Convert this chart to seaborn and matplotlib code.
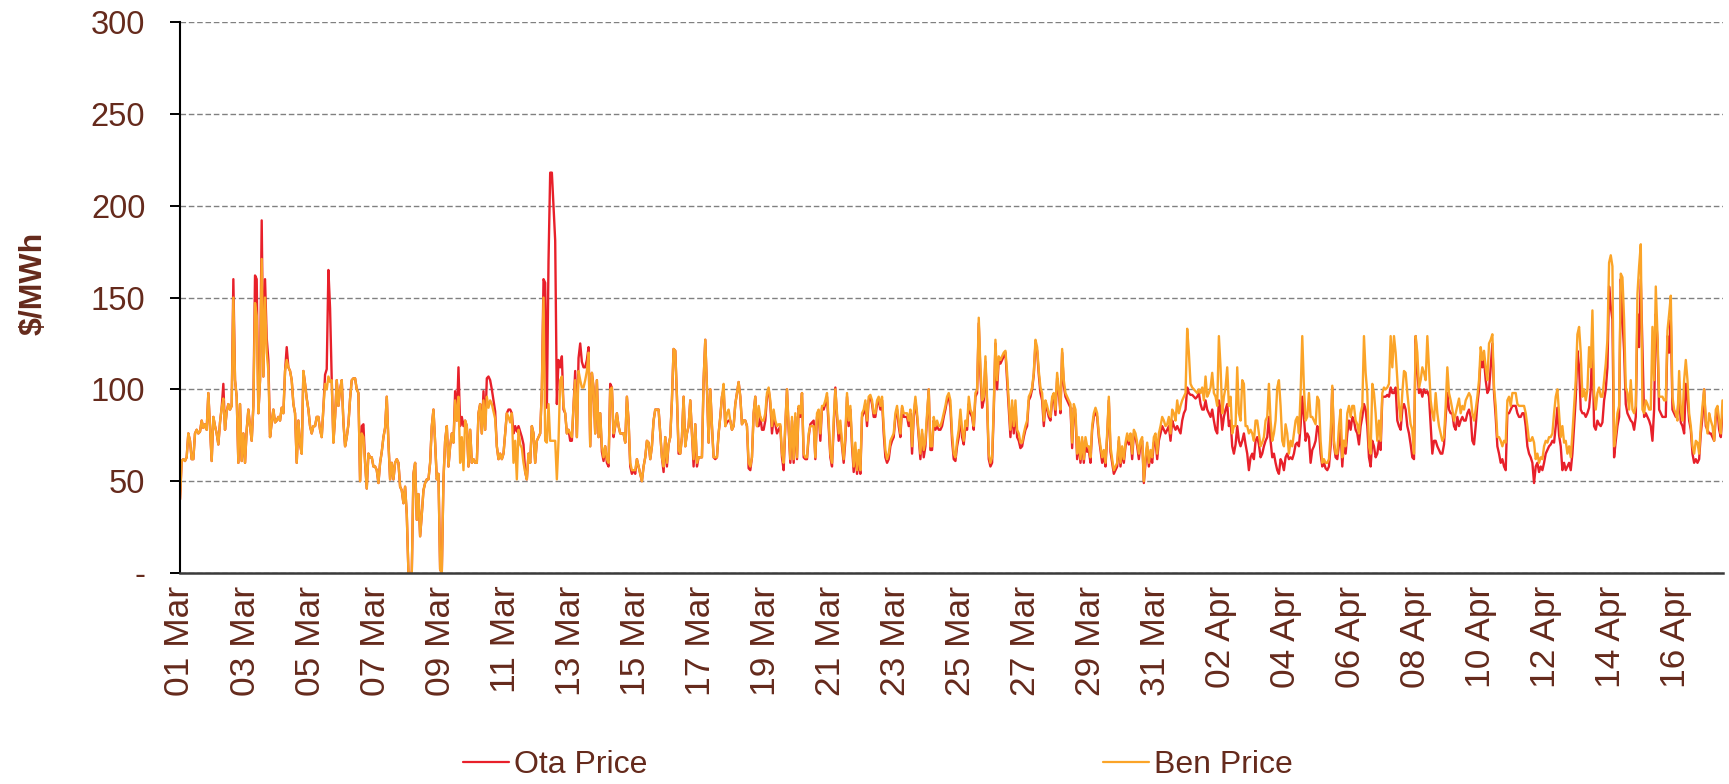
import pandas as pd
import numpy as np
import matplotlib
matplotlib.use("Agg")
import matplotlib.pyplot as plt
from matplotlib.lines import Line2D
import seaborn as sns

# ---------------- data ----------------
start_date = "2023-03-01"
segment_days = 6                 # each segment below covers 6 days
samples_per_segment = 117        # sampling interval = 6 days / 117

ben_seg1 = [40,61,62,61,63,76,72,62,62,76,
            78,76,77,83,79,81,78,98,80,61,
            85,80,76,70,82,90,95,78,88,92,
            89,91,150,105,96,60,92,61,76,60,
            78,89,80,72,91,147,140,87,105,171,
            107,150,120,110,74,82,89,82,83,85,
            83,90,87,110,116,112,110,105,92,87,
            60,83,70,65,110,103,95,89,80,76,
            80,80,85,85,78,74,90,103,100,107,
            104,105,71,85,105,91,100,105,82,69,
            74,81,95,105,106,106,100,98,50,76,
            74,60,46,65,63,63,58]
ota_seg1 = [40,61,62,61,63,76,72,62,62,76,
            78,76,77,83,79,81,78,98,80,61,
            85,80,76,70,82,90,103,78,88,92,
            89,91,160,105,96,60,92,61,76,60,
            78,89,80,72,91,162,160,87,105,192,
            107,160,128,116,74,82,89,82,83,85,
            83,90,87,110,123,112,110,105,92,87,
            60,83,70,65,110,103,95,89,80,76,
            80,80,85,85,78,74,90,108,111,165,
            144,105,71,85,105,91,100,105,82,69,
            74,81,95,105,106,106,100,98,50,80,
            81,60,46,65,63,63,58]

ben_seg2 = [58,56,49,60,66,74,79,96,71,51,
            60,51,60,62,60,47,45,38,47,32,
            0,0,0,54,60,29,43,20,32,45,
            49,51,51,60,80,89,71,51,54,2,
            0,51,72,80,58,69,76,71,94,83,
            96,60,74,56,83,80,58,78,60,62,
            60,60,87,92,76,94,78,96,90,94,
            92,88,84,69,62,65,62,65,76,87,
            85,82,87,60,72,51,78,70,68,60,
            55,51,65,60,80,76,60,72,74,76,
            100,150,72,71,92,72,72,72,72,51,
            72,105,107,91,87,76,78]
ota_seg2 = [58,56,49,60,66,74,79,96,71,51,
            60,51,60,62,60,47,45,38,47,32,
            0,0,0,54,60,29,43,20,32,45,
            49,51,51,60,80,89,71,51,54,2,
            0,51,72,80,58,69,76,71,99,83,
            112,80,85,80,83,80,58,78,60,62,
            60,60,87,92,76,99,78,106,107,105,
            100,94,88,69,62,65,62,65,76,87,
            89,89,87,76,80,77,80,77,74,70,
            55,51,65,60,80,76,60,72,74,76,
            100,160,158,90,170,218,218,200,181,92,
            116,112,118,89,87,76,78]

ben_seg3 = [76,74,91,105,74,110,105,101,101,105,
            110,120,69,109,101,76,105,74,87,69,
            63,69,62,60,100,101,76,80,87,80,
            76,76,76,71,96,83,60,56,56,56,
            62,58,54,50,58,63,72,71,62,69,
            83,89,89,89,76,63,58,74,60,70,
            74,94,122,121,96,67,65,74,96,69,
            76,80,94,76,62,81,60,63,63,63,
            105,127,101,71,100,80,63,63,63,76,
            85,96,103,80,87,89,83,78,80,92,
            98,104,96,81,83,83,80,60,58,63,
            87,96,80,91,85,83,83]
ota_seg3 = [72,72,91,110,74,117,125,115,112,112,
            116,123,69,109,101,76,105,74,87,66,
            61,69,60,58,103,101,74,80,87,80,
            76,76,76,71,96,83,58,54,56,54,
            62,58,54,50,58,63,72,71,62,69,
            83,89,89,89,76,63,55,74,58,70,
            74,94,122,121,96,65,65,74,96,69,
            76,80,94,76,58,81,58,63,63,63,
            105,127,101,71,100,80,63,62,63,76,
            85,96,100,80,82,83,83,78,80,92,
            98,104,96,81,83,83,80,57,56,63,
            87,96,80,80,85,78,78]

ben_seg4 = [87,98,101,94,80,89,83,80,81,81,
            65,60,81,100,80,62,85,62,87,63,
            91,87,98,65,63,63,76,80,80,80,
            63,87,89,76,91,91,94,98,83,65,
            60,83,100,87,76,83,71,62,76,98,
            83,91,72,58,71,56,67,56,87,89,
            94,83,96,97,94,87,87,94,96,91,
            96,80,67,62,65,72,74,76,87,91,
            83,76,91,87,87,87,83,89,69,87,
            96,87,76,65,78,67,72,87,100,69,
            69,85,80,83,80,80,83,87,91,96,
            98,94,76,65,63,72,78]
ota_seg4 = [83,96,100,92,76,85,81,76,78,80,
            63,56,80,100,78,60,83,60,85,62,
            90,85,98,63,62,62,74,81,82,83,
            62,85,87,72,90,89,92,96,80,63,
            58,80,101,85,72,80,69,60,72,96,
            80,89,69,55,67,54,62,54,85,87,
            92,80,94,96,92,85,85,92,94,89,
            94,76,63,60,62,69,72,74,85,89,
            80,74,90,85,85,85,80,87,65,85,
            94,85,74,62,76,63,69,85,100,67,
            67,83,78,80,78,78,80,85,89,94,
            96,90,72,62,61,69,74]

ben_seg5 = [89,78,72,83,80,96,89,87,80,98,
            100,139,112,94,96,118,94,65,60,63,
            91,127,105,118,116,118,120,121,109,94,
            78,94,80,94,78,76,71,71,76,80,
            83,96,98,101,109,127,123,110,101,98,
            83,94,91,87,85,96,98,89,109,100,
            89,122,105,98,96,94,92,71,92,89,
            65,74,62,74,62,74,69,69,63,80,
            87,90,87,76,69,63,67,60,76,96,
            69,62,56,58,60,74,60,69,62,71,
            76,72,76,65,78,76,71,65,72,74,
            50,63,71,60,67,63,74]
ota_seg5 = [86,74,70,80,78,92,87,85,78,96,
            98,136,108,90,94,115,92,62,58,60,
            88,125,100,116,114,116,118,120,105,90,
            74,90,76,90,74,72,68,69,74,78,
            80,94,96,100,108,125,121,108,98,94,
            80,92,89,85,83,94,96,86,106,98,
            87,120,102,96,94,92,90,68,90,86,
            62,72,60,72,60,72,66,67,60,78,
            85,88,85,74,67,60,64,58,74,94,
            66,60,54,56,58,72,58,66,60,69,
            74,70,74,62,76,74,69,62,70,72,
            49,60,69,58,64,60,71]

ben_seg6 = [76,65,76,80,85,83,80,81,85,76,
            89,87,83,94,87,91,94,96,98,133,
            120,103,101,100,99,98,100,98,101,94,
            107,96,98,101,109,98,96,91,129,112,
            87,96,101,112,91,96,76,80,80,112,
            87,83,105,103,80,80,76,78,76,72,
            83,83,76,69,71,74,83,85,103,83,
            72,76,83,101,105,91,72,69,81,76,
            65,72,69,76,83,85,76,98,129,101,
            83,85,98,85,85,83,81,96,94,72,
            60,62,60,60,62,76,102,72,65,65,
            80,89,63,72,69,87,91]
ota_seg6 = [72,62,72,76,80,78,76,78,80,72,
            83,80,78,80,78,76,83,87,89,101,
            98,97,97,96,95,96,98,92,89,89,
            94,89,87,85,89,83,78,76,94,89,
            78,85,89,92,80,83,69,65,70,80,
            72,69,72,76,70,65,56,63,65,62,
            72,74,70,63,65,69,72,74,85,72,
            63,65,60,56,54,62,60,56,63,65,
            62,63,62,65,70,71,69,80,96,85,
            72,76,74,60,67,69,72,80,78,65,
            58,60,57,56,58,69,101,70,63,62,
            70,78,58,72,65,76,83]

ben_seg7 = [85,91,91,83,81,76,87,91,129,109,
            98,69,65,103,98,87,72,83,72,98,
            101,100,101,103,129,112,129,120,105,91,
            83,98,110,109,98,89,81,78,65,129,
            120,101,105,112,109,105,129,112,94,87,
            83,98,87,80,76,72,74,91,112,98,
            94,89,83,87,91,95,87,91,89,94,
            96,98,96,87,83,89,96,105,123,116,
            121,112,105,125,127,130,101,91,74,74,
            72,69,72,71,94,96,91,98,98,98,
            92,91,91,91,91,87,80,72,72,74,
            71,62,65,60,63,62,69]
ota_seg7 = [78,85,83,78,76,70,80,85,92,89,
            80,63,58,72,69,63,65,72,67,96,
            96,96,97,96,101,98,98,101,83,80,
            78,89,92,89,80,76,70,63,62,129,
            110,98,100,96,100,98,99,96,80,65,
            72,72,69,67,65,65,70,85,98,89,
            87,87,80,78,85,80,83,85,83,83,
            87,89,85,72,70,80,92,100,118,112,
            116,105,98,100,112,125,98,85,69,65,
            60,62,58,56,87,87,89,91,91,91,
            87,85,85,87,87,80,69,65,63,60,
            49,58,60,55,58,56,60]

ben_seg8 = [72,71,74,74,76,87,96,100,87,74,
            80,71,72,65,69,63,76,91,105,130,
            134,120,96,100,94,100,123,112,143,98,
            89,98,101,96,96,105,114,127,169,173,
            167,69,76,87,91,163,161,138,101,98,
            89,105,89,87,91,152,167,179,89,87,
            94,92,89,89,134,105,156,130,96,96,
            96,94,94,132,141,151,96,89,87,83,
            110,89,83,105,116,105,87,80,69,65,
            72,71,65,80,91,100,83,76,87,83,
            80,72,89,91,83,76,94]
ota_seg8 = [65,67,69,70,72,71,80,90,75,69,
            56,60,56,58,60,56,65,80,95,121,
            112,89,87,87,85,87,90,100,127,80,
            78,83,81,80,82,94,100,112,156,145,
            138,63,72,80,85,160,138,121,92,87,
            85,83,82,78,85,141,123,160,123,85,
            87,85,83,80,72,89,141,127,89,87,
            85,85,85,129,120,138,89,87,85,87,
            98,82,80,76,103,96,83,78,65,60,
            62,60,62,76,85,100,80,78,76,76,
            74,72,85,89,78,74,87]

ota_segments = [ota_seg1, ota_seg2, ota_seg3, ota_seg4,
                ota_seg5, ota_seg6, ota_seg7, ota_seg8]
ben_segments = [ben_seg1, ben_seg2, ben_seg3, ben_seg4,
                ben_seg5, ben_seg6, ben_seg7, ben_seg8]

series_names = ["Ota Price", "Ben Price"]
y_ticks = [0, 50, 100, 150, 200, 250, 300]
y_tick_labels = ["-", "50", "100", "150", "200", "250", "300"]
x_tick_dates = pd.date_range("2023-03-01", "2023-04-16", freq="2D")
x_end = pd.Timestamp("2023-03-01") + pd.Timedelta(days=47.45)

# ---------------- build long-form table ----------------
t0 = pd.Timestamp(start_date)
step = pd.Timedelta(days=segment_days) / samples_per_segment

def build(segments, name):
    rows = []
    for k, seg in enumerate(segments):
        seg_start = t0 + pd.Timedelta(days=segment_days * k)
        for i, v in enumerate(seg):
            rows.append((seg_start + i * step, v, name))
    return rows

df = pd.DataFrame(build(ota_segments, series_names[0]) + build(ben_segments, series_names[1]),
                  columns=["time", "price", "series"])

# ---------------- style ----------------
sns.set_theme(style="white")
plt.rcParams["font.family"] = ["Liberation Sans", "DejaVu Sans"]
text_col = "#652A1C"
red = "#E8202A"
orange = "#FBA428"
fs = 23

fig = plt.figure(figsize=(17.29, 7.84), dpi=100)
ax = fig.add_axes([0.1041, 0.2691, 0.8924, 0.7028])

sns.lineplot(data=df, x="time", y="price", hue="series", hue_order=series_names,
             palette={series_names[0]: red, series_names[1]: orange},
             estimator=None, linewidth=1.7, legend=False, ax=ax)

ax.set_ylim(0, 300)
ax.set_xlim(t0, x_end)
ax.set_yticks(y_ticks)
ax.set_yticklabels(y_tick_labels)
ax.set_xticks(list(x_tick_dates))
ax.set_xticklabels([d.strftime("%d %b") for d in x_tick_dates], rotation=90)

ax.tick_params(axis="y", which="both", left=True, length=7, width=1.4, color="black",
               direction="out", pad=18, labelsize=23.5, labelcolor=text_col)
ax.tick_params(axis="x", which="both", bottom=False, length=0, pad=9,
               labelsize=25.5, labelcolor=text_col)

ax.yaxis.grid(True, linestyle=(0, (4, 2)), color="#808080", linewidth=1.0)
ax.xaxis.grid(False)
ax.set_axisbelow(True)

for s in ["top", "right"]:
    ax.spines[s].set_visible(False)
ax.spines["left"].set_color("black")
ax.spines["left"].set_linewidth(1.5)
ax.spines["bottom"].set_color("#3a3a3a")
ax.spines["bottom"].set_linewidth(1.8)

ax.set_xlabel("")
ax.set_ylabel("$/MWh", fontsize=fs, fontweight="bold", color=text_col)
ax.yaxis.set_label_coords(-0.085, 0.525)

# legend (two entries spread across the bottom)
h_ota = Line2D([], [], color=red, linewidth=1.6)
h_ben = Line2D([], [], color=orange, linewidth=1.6)
for h, lab, xpos in [(h_ota, series_names[0], 0.2678), (h_ben, series_names[1], 0.638)]:
    leg = fig.legend(handles=[h], labels=[lab], loc="center left",
                     bbox_to_anchor=(xpos, 0.024), frameon=False, fontsize=fs,
                     handlelength=1.45, handletextpad=0.15, borderpad=0, borderaxespad=0)
    for t in leg.get_texts():
        t.set_color(text_col)

fig.savefig("out.png", dpi=100)
